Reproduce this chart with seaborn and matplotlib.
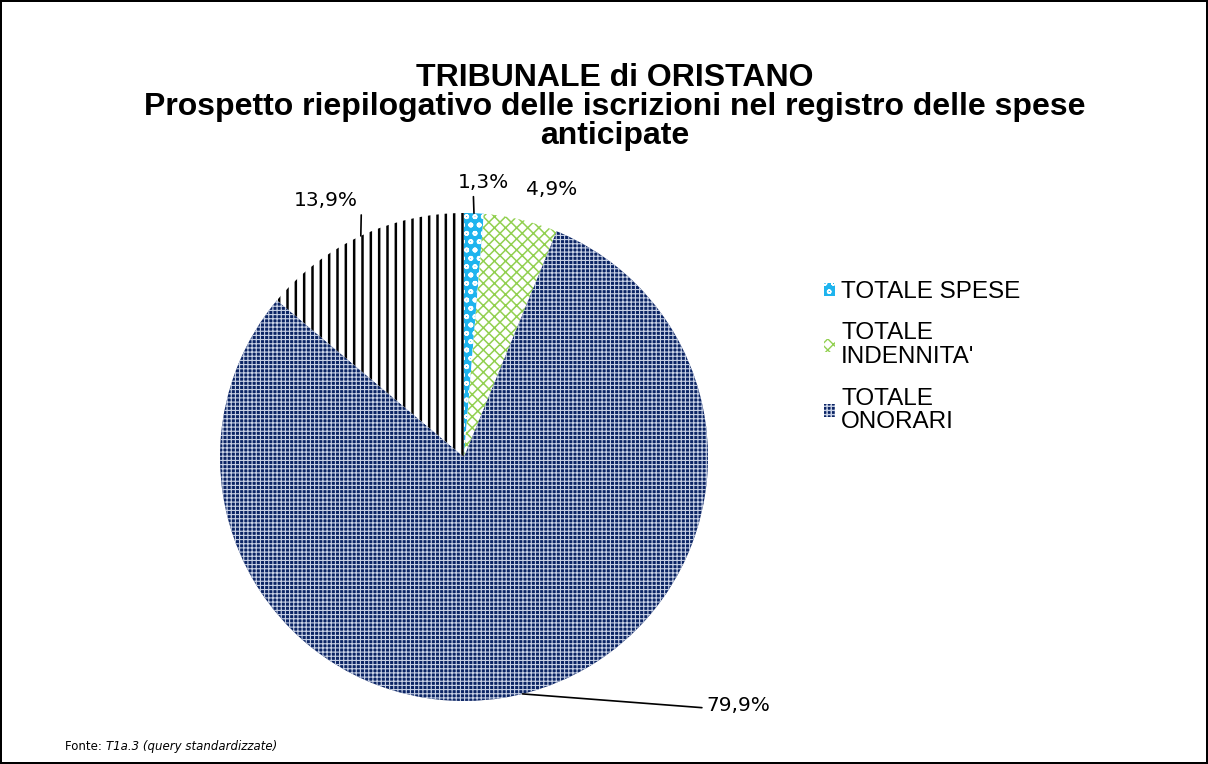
import numpy as np
import matplotlib
matplotlib.use('Agg')
import matplotlib.pyplot as plt
import seaborn as sns
from matplotlib.patches import Patch

# dati
categorie = ['TOTALE SPESE', "TOTALE INDENNITA'", 'TOTALE ONORARI', 'ALTRO']
etichette_legenda = ['TOTALE SPESE', "TOTALE\nINDENNITA'", 'TOTALE\nONORARI']
percentuali = [1.3, 4.9, 79.9, 13.9]
etichette = ['1,3%', '4,9%', '79,9%', '13,9%']

sns.set_theme(style='white')
plt.rcParams['font.family'] = ['DejaVu Sans']
plt.rcParams['text.color'] = 'black'

colori_fondo = ['#1EB4EE', 'white', '#0B2464', 'white']
colori_trama = ['white', '#92D050', '#C9D2E6', 'black']
trame = ['oo', 'xxx', '++++', '||']
spessori = [1.2, 1.1, 0.8, 1.8]

fig = plt.figure(figsize=(12.08, 7.64), dpi=100)
fig.patch.set_edgecolor('black')
fig.patch.set_linewidth(1.5)

ax = fig.add_axes([220 / 1208, 63 / 764, 488 / 1208, 488 / 764])
wedges, _ = ax.pie(percentuali, startangle=90, counterclock=False,
                   colors=colori_fondo, radius=1,
                   wedgeprops=dict(linewidth=0))
for w, c, h, lw in zip(wedges, colori_trama, trame, spessori):
    w.set_edgecolor(c)
    w.set_hatch(h)
    if hasattr(w, 'set_hatch_linewidth'):
        w.set_hatch_linewidth(lw)
ax.set_xlim(-1, 1)
ax.set_ylim(-1, 1)
ax.set_aspect('equal')
ax.axis('off')

# etichette con linee guida
cum = np.cumsum([0] + percentuali[:-1])
angoli = np.deg2rad(90 - (cum + np.array(percentuali) / 2) * 3.6)
pos_testo = [(0.08, 1.125), (0.36, 1.095), (1.125, -1.02), (-0.565, 1.05)]
collegamento = [True, False, True, True]
relpos = [(0.3, 0.0), (0.5, 0.5), (-0.05, 0.4), (1.05, 0.0)]
for a, t, p, con, rp in zip(angoli, etichette, pos_testo, collegamento, relpos):
    xy = (np.cos(a), np.sin(a))
    if con:
        ax.annotate(t, xy=xy, xytext=p, ha='center', va='center', fontsize=14.5,
                    annotation_clip=False,
                    arrowprops=dict(arrowstyle='-', color='black', lw=1.2,
                                    shrinkA=1, shrinkB=0, relpos=rp))
    else:
        ax.text(p[0], p[1], t, ha='center', va='center', fontsize=14.5)

# titolo
fig.text(0.509, 1 - 63 / 764, 'TRIBUNALE di ORISTANO\n'
         'Prospetto riepilogativo delle iscrizioni nel registro delle spese\n'
         'anticipate', ha='center', va='top', fontsize=23, fontweight='bold',
         family=['Liberation Sans'], linespacing=0.95)

# legenda
maniglie = [Patch(facecolor=colori_fondo[i], edgecolor=colori_trama[i],
                  hatch=trame[i], linewidth=0) for i in range(3)]
leg = fig.legend(maniglie, etichette_legenda, loc='upper left',
                 bbox_to_anchor=(824 / 1208, 1 - 281 / 764), frameon=False,
                 prop={'family': 'Liberation Sans', 'size': 17.5},
                 handlelength=0.45, handleheight=0.45, handletextpad=0.25,
                 labelspacing=0.8, borderpad=0, borderaxespad=0)
for t in leg.get_texts():
    t.set_linespacing(1.1)

# fonte
f1 = fig.text(65 / 1208, 1 - 750 / 764, 'Fonte: ', fontsize=8.5, va='baseline')
ax.annotate('T1a.3 (query standardizzate)', xy=(1, 0), xycoords=f1,
            fontsize=8.5, style='italic', va='bottom', ha='left',
            annotation_clip=False)

fig.savefig('out.png', dpi=100, edgecolor=fig.get_edgecolor())
